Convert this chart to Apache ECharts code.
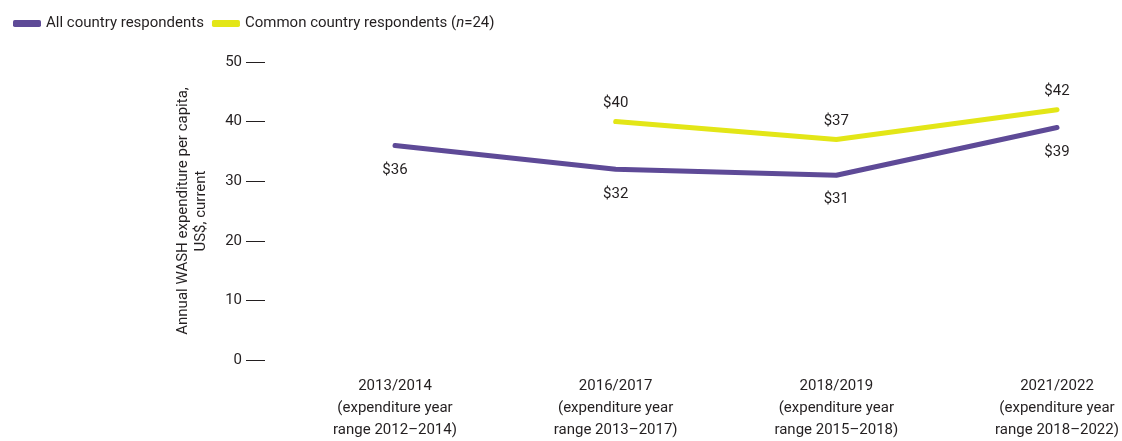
<!DOCTYPE html>
<html>
<head>
<meta charset="utf-8">
<script src="https://cdn.jsdelivr.net/npm/echarts@6/dist/echarts.min.js"></script>
<style>
  html, body { margin: 0; padding: 0; background: #fff; }
  #chart { width: 1122px; height: 441px; }
</style>
</head>
<body>
<div id="chart"></div>
<script>
const categories = [
  '2013/2014\n(expenditure year\nrange 2012\u20132014)',
  '2016/2017\n(expenditure year\nrange 2013\u20132017)',
  '2018/2019\n(expenditure year\nrange 2015\u20132018)',
  '2021/2022\n(expenditure year\nrange 2018\u20132022)'
];
const allCountry = [36, 32, 31, 39];
const commonCountry = [null, 40, 37, 42];
const seriesNames = ['All country respondents', 'Common country respondents (n=24)'];

// no condensed face installed, Roboto is the narrowest of the lot
const FONT = 'Roboto, "Noto Sans", sans-serif';
const FS = 15;
const TEXT = '#231f20';
const PURPLE = '#5e4a97';
const YELLOW = '#e3e617';

const chart = echarts.init(document.getElementById('chart'));

const option = {
  animation: false,
  textStyle: { fontFamily: FONT, color: TEXT },
  legend: {
    left: 8,
    top: 11,
    itemWidth: 28,
    itemHeight: 7,
    itemGap: 8,
    icon: 'roundRect',
    textStyle: {
      fontFamily: FONT,
      fontSize: FS,
      color: TEXT,
      rich: { i: { fontFamily: FONT, fontSize: FS, fontStyle: 'italic', color: TEXT } }
    },
    formatter: function (name) {
      if (name === seriesNames[1]) return 'Common country respondents ({i|n}=24)';
      return name;
    },
    data: seriesNames
  },
  grid: { left: 395, right: 65, top: 62, bottom: 79 },
  xAxis: {
    type: 'category',
    data: categories,
    boundaryGap: false,
    axisLine: { show: false },
    axisTick: { show: false },
    axisLabel: {
      margin: 15,
      fontFamily: FONT,
      fontSize: FS,
      lineHeight: 22,
      color: TEXT,
      interval: 0
    }
  },
  yAxis: {
    type: 'value',
    min: 0,
    max: 50,
    interval: 10,
    offset: 130,
    name: 'Annual WASH expenditure per capita,\nUS$, current',
    nameLocation: 'middle',
    nameGap: 55,
    nameTextStyle: { fontFamily: FONT, fontSize: FS, lineHeight: 18, color: TEXT },
    axisLine: { show: false },
    axisTick: { show: true, length: 19, lineStyle: { color: TEXT, width: 1 } },
    splitLine: { show: false },
    axisLabel: { margin: 23, fontFamily: FONT, fontSize: FS, color: TEXT }
  },
  series: [
    {
      name: seriesNames[0],
      type: 'line',
      data: allCountry,
      symbol: 'circle',
      symbolSize: 2,
      itemStyle: { color: PURPLE },
      lineStyle: { color: PURPLE, width: 5, cap: 'round', join: 'round' },
      label: {
        show: true,
        position: 'bottom',
        distance: 16,
        fontFamily: FONT,
        fontSize: FS,
        color: TEXT,
        formatter: p => '$' + p.value
      }
    },
    {
      name: seriesNames[1],
      type: 'line',
      data: commonCountry,
      symbol: 'circle',
      symbolSize: 2,
      itemStyle: { color: YELLOW },
      lineStyle: { color: YELLOW, width: 5, cap: 'round', join: 'round' },
      label: {
        show: true,
        position: 'top',
        distance: 10,
        fontFamily: FONT,
        fontSize: FS,
        color: TEXT,
        formatter: p => '$' + p.value
      }
    }
  ]
};

chart.setOption(option);
window.addEventListener('resize', () => chart.resize());
</script>
</body>
</html>
